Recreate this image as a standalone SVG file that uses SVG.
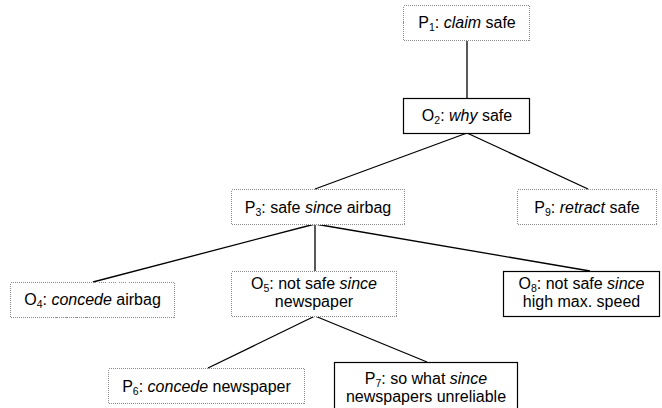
<svg xmlns="http://www.w3.org/2000/svg" width="662" height="408" viewBox="0 0 662 408">
<style>
.dot{fill:#fff;stroke:#8c8c8c;stroke-width:1;stroke-dasharray:1 1;shape-rendering:crispEdges}
.sol{fill:#fff;stroke:#000;stroke-width:1.2}
.t{font-family:"Liberation Sans",Arial,sans-serif;font-size:16px;fill:#000;text-anchor:middle}
.i{font-style:italic}
.s{font-size:10.5px}
.c{stroke:#000;stroke-width:1.3;fill:none}
</style>
<rect width="662" height="408" fill="#fff"/>
<g id="connectors">
<line class="c" x1="467" y1="40" x2="467" y2="98"/>
<line class="c" x1="467" y1="133" x2="315" y2="189"/>
<line class="c" x1="467" y1="133" x2="588" y2="189"/>
<line class="c" x1="315" y1="224" x2="93" y2="282"/>
<line class="c" x1="315" y1="224" x2="315" y2="271"/>
<line class="c" x1="315" y1="224" x2="590" y2="271"/>
<line class="c" x1="315" y1="316" x2="208" y2="368"/>
<line class="c" x1="315" y1="316" x2="427" y2="362"/>
</g>
<g id="P1">
<rect class="dot" x="403.5" y="5.5" width="126" height="35"/>
<text class="t" x="467" y="28">P<tspan class="s" dy="2.5">1</tspan><tspan dy="-2.5">: </tspan><tspan class="i">claim</tspan> safe</text>
</g>
<g id="O2">
<rect class="sol" x="403.5" y="98.5" width="126" height="35"/>
<text class="t" x="467" y="121">O<tspan class="s" dy="2.5">2</tspan><tspan dy="-2.5">: </tspan><tspan class="i">why</tspan> safe</text>
</g>
<g id="P3">
<rect class="dot" x="231.5" y="189.5" width="173" height="35"/>
<text class="t" x="318" y="213">P<tspan class="s" dy="2.5">3</tspan><tspan dy="-2.5">: safe </tspan><tspan class="i">since</tspan> airbag</text>
</g>
<g id="P9">
<rect class="dot" x="517.5" y="189.5" width="139" height="35"/>
<text class="t" x="587" y="213">P<tspan class="s" dy="2.5">9</tspan><tspan dy="-2.5">: </tspan><tspan class="i">retract</tspan> safe</text>
</g>
<g id="O4">
<rect class="dot" x="10.5" y="282.5" width="164" height="35"/>
<text class="t" x="92.5" y="305">O<tspan class="s" dy="2.5">4</tspan><tspan dy="-2.5">: </tspan><tspan class="i">concede</tspan> airbag</text>
</g>
<g id="O5">
<rect class="dot" x="231.5" y="271.5" width="165" height="45"/>
<text class="t" x="314" y="289">O<tspan class="s" dy="2.5">5</tspan><tspan dy="-2.5">: not safe </tspan><tspan class="i">since</tspan></text>
<text class="t" x="314" y="307">newspaper</text>
</g>
<g id="O8">
<rect class="sol" x="503.5" y="271.5" width="156" height="45"/>
<text class="t" x="581.5" y="289">O<tspan class="s" dy="2.5">8</tspan><tspan dy="-2.5">: not safe </tspan><tspan class="i">since</tspan></text>
<text class="t" x="581.5" y="307">high max. speed</text>
</g>
<g id="P6">
<rect class="dot" x="108.5" y="368.5" width="196" height="35"/>
<text class="t" x="206.5" y="392">P<tspan class="s" dy="2.5">6</tspan><tspan dy="-2.5">: </tspan><tspan class="i">concede</tspan> newspaper</text>
</g>
<g id="P7">
<rect class="sol" x="334.5" y="362.5" width="183" height="50"/>
<text class="t" x="426" y="384">P<tspan class="s" dy="2.5">7</tspan><tspan dy="-2.5">: so what </tspan><tspan class="i">since</tspan></text>
<text class="t" x="426" y="402">newspapers unreliable</text>
</g>
</svg>
